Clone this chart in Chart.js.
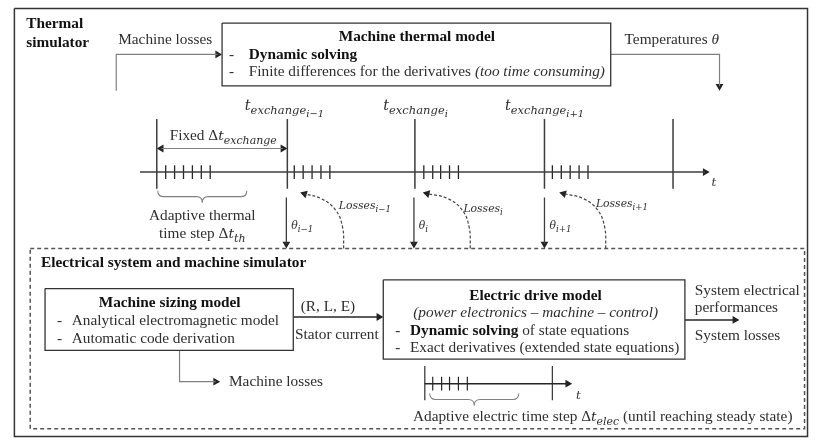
<!DOCTYPE html>
<html>
<head>
<meta charset="utf-8">
<script src="https://cdn.jsdelivr.net/npm/chart.js@4.4.0/dist/chart.umd.min.js"></script>
<style>
html, body { margin: 0; padding: 0; background: #fff; }
canvas { display: block; }
</style>
</head>
<body>
<canvas id="myChart" width="815" height="443"></canvas>
<script>
// colores
const negro = '#262626'
const oscuro = '#3c3c3c'
const gris = '#808080'

// cajas [x1, y1, x2, y2]
const borde = [10, 4, 812, 441]
const cajaPunteada = [26, 249, 809, 433]
const cajas = [
    [220, 19, 613, 83],
    [41, 290, 292, 353],
    [383, 281, 688, 362]
]

// flechas simples (polilinea, punta al final)
const flechasGrises = [
    [[113, 88], [113, 51], [220, 51]],
    [[613, 51], [723, 51], [723, 88]],
    [[177, 353], [177, 385], [218, 385]]
]
const flechasNegras = [
    [[292, 319], [383, 319]],
    [[688, 322], [743, 322]]
]
const flechaFija = [[154, 147], [286, 147]]
// flechas theta: x, desde y, hasta y
const flechasTheta = [[285, 197, 249], [414, 197, 249], [546, 197, 249]]

// ejes de tiempo
const ejeTermico = [[137, 171], [713, 171]]
const ejeElectrico = [[425, 387], [574, 387]]
const cambios = [154, 286, 415, 546, 676]
const pasosTermicos = [163, 172, 181, 190, 199, 208, 293, 302, 311, 320, 329, 424, 433, 441, 450, 459, 554, 563, 572, 581, 590]
const finesElectricos = [425, 554]
const pasosElectricos = [433, 442, 450, 459, 468]

// curvas punteadas de perdidas
const perdidas = [
    [[343, 249], [342, 228], [335, 210], [320, 198], [299, 192]],
    [[471, 249], [470, 228], [463, 210], [448, 198], [423, 192]],
    [[608, 249], [607, 228], [600, 210], [585, 198], [561, 192]]
]

// llaves [x1, x2, y, alto]
const llaves = [[155, 245, 190, 12], [430, 520, 397, 12]]

// textos [x, y, alineacion, tamaño, texto]
const textos = [
    [22, 19, 'left', 15.3, 'b:Thermal'],
    [22, 38, 'left', 15.3, 'b:simulator'],
    [115, 35, 'left', 15.3, 'r:Machine losses'],
    [417, 32, 'center', 15.3, 'b:Machine thermal model'],
    [227, 50, 'left', 15.3, 'r:-'],
    [247, 50, 'left', 15.3, 'b:Dynamic solving'],
    [227, 68, 'left', 15.3, 'r:-'],
    [247, 68, 'left', 15.3, 'r:Finite differences for the derivatives |i:(too time consuming)'],
    [627, 35, 'left', 15.3, 'r:Temperatures |i:θ'],
    [243, 102, 'left', 16, 'm:t|s:exchange|ss:i−1'],
    [383, 102, 'left', 16, 'm:t|s:exchange|ss:i'],
    [506, 102, 'left', 16, 'm:t|s:exchange|ss:i+1'],
    [167, 133, 'left', 15.3, 'r:Fixed Δ|m:t|s:exchange'],
    [200, 215, 'center', 15.3, 'r:Adaptive thermal'],
    [200, 233, 'center', 15.3, 'r:time step Δ|m:t|s:th'],
    [715, 181, 'left', 13, 'm:t'],
    [290, 225, 'left', 12, 'm:θ|s:i−1'],
    [419, 225, 'left', 12, 'm:θ|s:i'],
    [551, 225, 'left', 12, 'm:θ|s:i+1'],
    [338, 205, 'left', 12, 'm:Losses|s:i−1'],
    [464, 208, 'left', 12, 'm:Losses|s:i'],
    [598, 203, 'left', 12, 'm:Losses|s:i+1'],
    [37, 263, 'left', 15.3, 'b:Electrical system and machine simulator'],
    [167, 304, 'center', 15.3, 'b:Machine sizing model'],
    [53, 322, 'left', 15.3, 'r:-'],
    [68, 322, 'left', 15.3, 'r:Analytical electromagnetic model'],
    [53, 340, 'left', 15.3, 'r:-'],
    [68, 340, 'left', 15.3, 'r:Automatic code derivation'],
    [327, 308, 'center', 15.3, 'r:(R, L, E)'],
    [336, 336, 'center', 15.3, 'r:Stator current'],
    [537, 296, 'center', 15.3, 'b:Electric drive model'],
    [537, 314, 'center', 15.3, 'i:(power electronics – machine – control)'],
    [395, 332, 'left', 15.3, 'r:-'],
    [410, 332, 'left', 15.3, 'b:Dynamic solving|r: of state equations'],
    [395, 350, 'left', 15.3, 'r:-'],
    [410, 350, 'left', 15.3, 'r:Exact derivatives (extended state equations)'],
    [698, 291, 'left', 15.3, 'r:System electrical'],
    [698, 309, 'left', 15.3, 'r:performances'],
    [698, 337, 'left', 15.3, 'r:System losses'],
    [227, 384, 'left', 15.3, 'r:Machine losses'],
    [578, 398, 'left', 13, 'm:t'],
    [413, 420, 'left', 15.3, 'r:Adaptive electric time step Δ|m:t|s:elec|r: (until reaching steady state)']
]

const R = 4.5
let datasets = []
let puntas = []

function linea(puntos, color, ancho, dash, tension){
    return {
        data: puntos.map(p => ({x: p[0], y: p[1]})),
        showLine: true,
        borderColor: color,
        borderWidth: ancho,
        borderDash: dash || [],
        pointRadius: 0,
        tension: tension || 0,
        fill: false
    }
}

function rect(c){
    return [[c[0], c[1]], [c[2], c[1]], [c[2], c[3]], [c[0], c[3]], [c[0], c[1]]]
}

// recorta la linea y pone la punta
function conPunta(puntos, color){
    let p = puntos.map(q => q.slice())
    let a = p[p.length - 2], b = p[p.length - 1]
    let dx = b[0] - a[0], dy = b[1] - a[1]
    let d = Math.hypot(dx, dy)
    dx /= d; dy /= d
    let cx = b[0] - dx * R, cy = b[1] - dy * R
    puntas.push({x: cx, y: cy, rot: Math.atan2(dx, -dy) * 180 / Math.PI, color: color})
    p[p.length - 1] = [cx, cy]
    return p
}

datasets.push(linea(rect(borde), '#333', 1.5))
datasets.push(linea(rect(cajaPunteada), '#555', 1.5, [4, 3]))
for (let c of cajas) datasets.push(linea(rect(c), '#333', 1.3))

for (let f of flechasGrises) datasets.push(linea(conPunta(f, '#222'), gris, 1.2))
for (let f of flechasNegras) datasets.push(linea(conPunta(f, '#222'), negro, 1.5))

let fija = conPunta(flechaFija, '#222')
fija = conPunta(fija.slice().reverse(), '#222')
datasets.push(linea(fija, gris, 1.2))

for (let t of flechasTheta) datasets.push(linea(conPunta([[t[0], t[1]], [t[0], t[2]]], '#222'), oscuro, 1.3))

datasets.push(linea(conPunta(ejeTermico, '#222'), oscuro, 1.5))
datasets.push(linea(conPunta(ejeElectrico, '#222'), negro, 1.5))

for (let x of cambios) datasets.push(linea([[x, 117], [x, 188]], oscuro, 1.5))
for (let x of pasosTermicos) datasets.push(linea([[x, 164], [x, 178]], negro, 1.3))
for (let x of finesElectricos) datasets.push(linea([[x, 369], [x, 404]], oscuro, 1.3))
for (let x of pasosElectricos) datasets.push(linea([[x, 380], [x, 394]], negro, 1.2))

for (let c of perdidas) datasets.push(linea(conPunta(c, '#222'), '#444', 1.2, [3, 2], 0.4))

datasets.push({
    data: puntas.map(p => ({x: p.x, y: p.y})),
    showLine: false,
    pointStyle: 'triangle',
    pointRadius: R,
    pointRotation: puntas.map(p => p.rot),
    backgroundColor: puntas.map(p => p.color),
    borderColor: puntas.map(p => p.color),
    borderWidth: 0
})

function fuente(cod, sz){
    if (cod == 'b') return ['bold ' + sz + 'px "Liberation Serif"', 0]
    if (cod == 'i') return ['italic ' + sz + 'px "Liberation Serif"', 0]
    if (cod == 'm') return ['italic ' + (sz * 0.9) + 'px "DejaVu Serif"', 0]
    if (cod == 's') return ['italic ' + (sz * 0.72) + 'px "DejaVu Serif"', sz * 0.25]
    if (cod == 'ss') return ['italic ' + (sz * 0.62) + 'px "DejaVu Serif"', sz * 0.45]
    return [sz + 'px "Liberation Serif"', 0]
}

const dibujos = {
    id: 'dibujos',
    afterDatasetsDraw(chart){
        const ctx = chart.ctx
        const sx = chart.scales.x, sy = chart.scales.y
        ctx.save()
        // llaves
        ctx.strokeStyle = gris
        ctx.lineWidth = 1.1
        for (let l of llaves){
            let x1 = sx.getPixelForValue(l[0]), x2 = sx.getPixelForValue(l[1])
            let y = sy.getPixelForValue(l[2]), h = l[3], xm = (x1 + x2) / 2, r = 6
            ctx.beginPath()
            ctx.moveTo(x1, y)
            ctx.quadraticCurveTo(x1, y + h / 2, x1 + r, y + h / 2)
            ctx.lineTo(xm - r, y + h / 2)
            ctx.quadraticCurveTo(xm, y + h / 2, xm, y + h)
            ctx.quadraticCurveTo(xm, y + h / 2, xm + r, y + h / 2)
            ctx.lineTo(x2 - r, y + h / 2)
            ctx.quadraticCurveTo(x2, y + h / 2, x2, y)
            ctx.stroke()
        }
        // textos
        ctx.textBaseline = 'alphabetic'
        ctx.textAlign = 'left'
        for (let t of textos){
            let sz = t[3]
            let partes = t[4].split('|').map(s => {
                let i = s.indexOf(':')
                return [s.slice(0, i), s.slice(i + 1)]
            })
            let ancho = 0
            for (let p of partes){
                ctx.font = fuente(p[0], sz)[0]
                ancho += ctx.measureText(p[1]).width
            }
            let x = sx.getPixelForValue(t[0])
            if (t[2] == 'center') x -= ancho / 2
            let base = sy.getPixelForValue(t[1]) + sz * 0.33
            for (let p of partes){
                let f = fuente(p[0], sz)
                ctx.font = f[0]
                ctx.fillStyle = p[0] == 'b' ? '#111' : '#2e2e2e'
                ctx.fillText(p[1], x, base + f[1])
                x += ctx.measureText(p[1]).width
            }
        }
        ctx.restore()
    }
}

new Chart(document.getElementById('myChart'), {
    type: 'scatter',
    data: { datasets },
    options: {
        responsive: false,
        animation: false,
        events: [],
        layout: { padding: 0 },
        scales: {
            x: { type: 'linear', min: 0, max: 815, display: false },
            y: { type: 'linear', min: 0, max: 443, reverse: true, display: false }
        },
        plugins: {
            legend: { display: false },
            tooltip: { enabled: false }
        }
    },
    plugins: [dibujos]
})
</script>
</body>
</html>
